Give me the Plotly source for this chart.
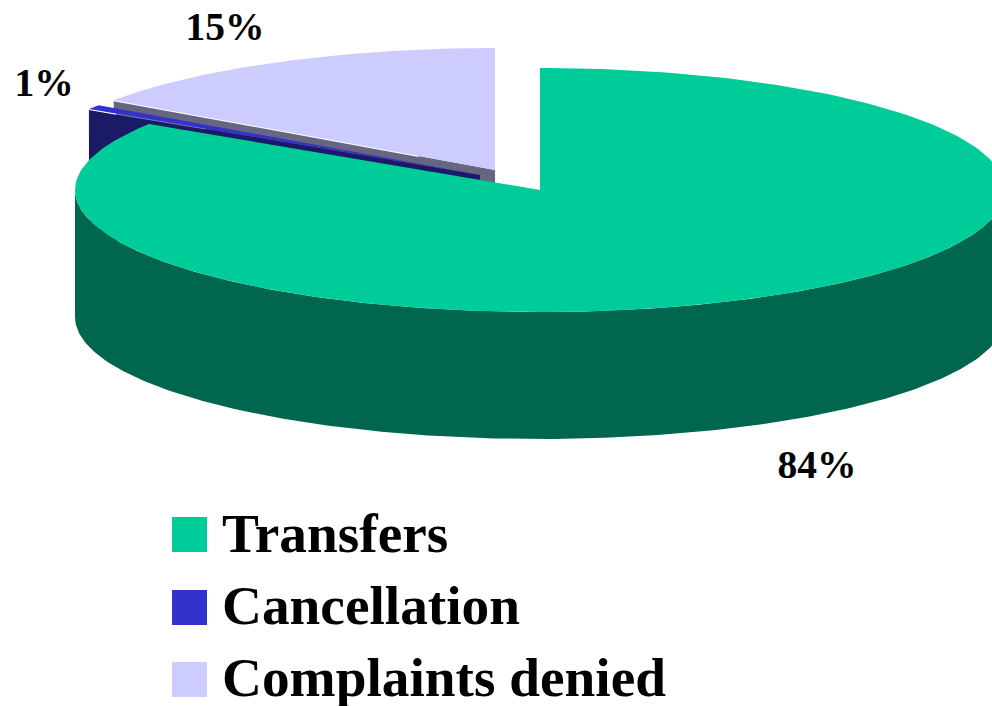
import numpy as np
import plotly.graph_objects as go

categories = ["Transfers", "Cancellation", "Complaints denied"]
shares = [84.1, 0.6, 15.3]
pct_labels = ["84%", "1%", "15%"]
top_colors = ["#00CC99", "#3333CC", "#CCCCFF"]
side_colors = ["#00664D", "#1A1A66", "#666680"]

# pie projection: (centre x, centre y) per slice
centres = [(540, 190), (480, 175), (495, 170)]
RX = 465
RY = 122
DEPTH = 127
label_pos = [(817, 468), (44, 86), (225, 30)]
swatch_x = 189.5
swatch_y = [534.5, 607.5, 679.5]
legend_text_x = 222
legend_text_y = [538, 610, 682]

W, H = 992, 706


def arc(cx, cy, a0, a1, dy=0, n=240):
    t = np.radians(np.linspace(a0, a1, n))
    return cx + RX * np.sin(t), cy - RY * np.cos(t) + dy


def poly(fig, xs, ys, color):
    fig.add_trace(go.Scatter(x=list(xs), y=list(ys), mode="lines", fill="toself",
                             fillcolor=color, line=dict(width=0, color=color),
                             hoverinfo="skip", showlegend=False))


def edge(fig, x0, y0, x1, y1, frac0, frac1, color, width):
    fig.add_trace(go.Scatter(x=[x0 + (x1 - x0) * frac0, x0 + (x1 - x0) * frac1],
                             y=[y0 + (y1 - y0) * frac0, y0 + (y1 - y0) * frac1],
                             mode="lines", line=dict(width=width, color=color),
                             hoverinfo="skip", showlegend=False))


bounds = np.cumsum([0] + shares) / sum(shares) * 360
fig = go.Figure()

# draw back to front: complaints, cancellation, transfers
for i in (2, 1, 0):
    cx, cy = centres[i]
    a0, a1 = bounds[i], bounds[i + 1]
    tx, ty = arc(cx, cy, a0, a1)
    if i == 0:
        # outer wall of the large slice, visible on the front half
        t0x, t0y = arc(cx, cy, 90, 270)
        t1x, t1y = arc(cx, cy, 90, 270, dy=DEPTH)
        poly(fig, np.r_[t0x, t1x[::-1]], np.r_[t0y, t1y[::-1]], side_colors[i])
    else:
        # cut face running from the centre to the left rim
        poly(fig, [tx[0], cx, cx, tx[0]], [ty[0], cy, cy + DEPTH, ty[0] + DEPTH], side_colors[i])
        # light highlight peeking out below the top face
        if i == 2:
            edge(fig, tx[0], ty[0], cx, cy, 0, 0.8, "#FFFFFF", 2)
        else:
            edge(fig, tx[0], ty[0], cx, cy, 0.07, 0.3, "#8A8AA0", 1.6)
            edge(fig, tx[0], ty[0], cx, cy, 0.0, 0.07, "#FFFFFF", 2.2)
    poly(fig, np.r_[cx, tx], np.r_[cy, ty], top_colors[i])

# legend swatches and text
fig.add_trace(go.Scatter(x=[swatch_x] * 3, y=swatch_y, mode="markers",
                         marker=dict(symbol="square", size=35, color=top_colors, line=dict(width=0)),
                         hoverinfo="skip", showlegend=False))
fig.add_trace(go.Scatter(x=[legend_text_x] * 3, y=legend_text_y, mode="text", text=categories,
                         textposition="middle right", cliponaxis=False,
                         textfont=dict(family="Liberation Serif", size=55.3, color="black", weight="bold"),
                         hoverinfo="skip", showlegend=False))
fig.add_trace(go.Scatter(x=[p[0] for p in label_pos], y=[p[1] for p in label_pos], mode="text",
                         text=pct_labels, textposition="middle center", cliponaxis=False,
                         textfont=dict(family="Liberation Serif", size=39.5, color="black", weight="bold"),
                         hoverinfo="skip", showlegend=False))

fig.update_layout(width=W, height=H, margin=dict(l=0, r=0, t=0, b=0),
                  paper_bgcolor="white", plot_bgcolor="white", showlegend=False,
                  xaxis=dict(range=[0, W], visible=False, fixedrange=True),
                  yaxis=dict(range=[H, 0], visible=False, fixedrange=True))
fig.write_html("out.html", config=dict(displayModeBar=False),
               post_script="document.body.style.margin='0';")
